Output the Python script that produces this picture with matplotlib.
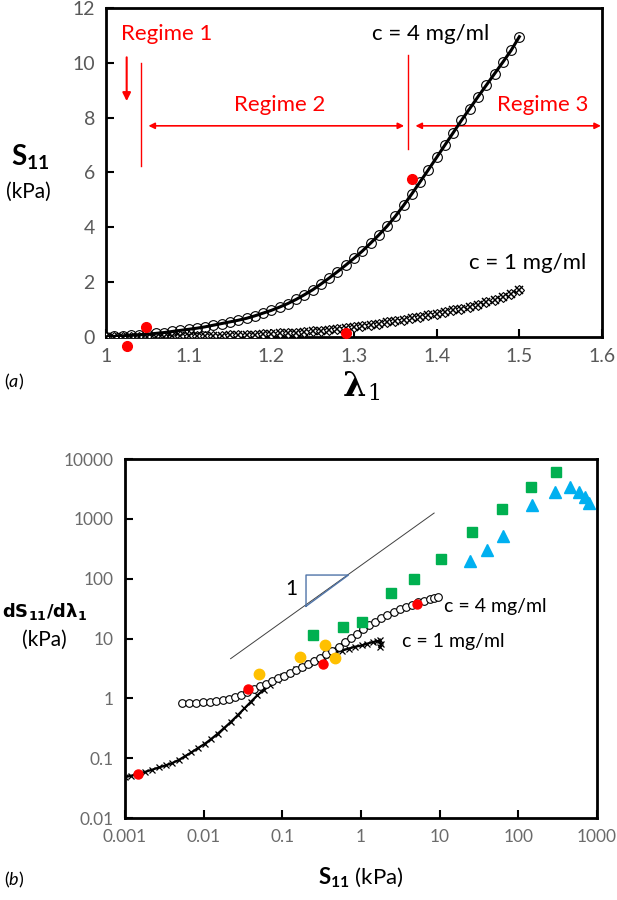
import numpy as np
import matplotlib.pyplot as plt

plt.rcParams['font.family'] = ['Lato', 'DejaVu Sans']
plt.rcParams['mathtext.fontset'] = 'custom'
plt.rcParams['mathtext.rm'] = 'Lato'
plt.rcParams['mathtext.bf'] = 'Lato:bold'
plt.rcParams['mathtext.it'] = 'Lato:italic'

# ---- panel (a): S11 vs stretch ----
lam = [1.00, 1.01, 1.02, 1.03, 1.04, 1.05, 1.06, 1.07, 1.08, 1.09,
       1.10, 1.11, 1.12, 1.13, 1.14, 1.15, 1.16, 1.17, 1.18, 1.19,
       1.20, 1.21, 1.22, 1.23, 1.24, 1.25, 1.26, 1.27, 1.28, 1.29,
       1.30, 1.31, 1.32, 1.33, 1.34, 1.35, 1.36, 1.37, 1.38, 1.39,
       1.40, 1.41, 1.42, 1.43, 1.44, 1.45, 1.46, 1.47, 1.48, 1.49, 1.50]
s_c4 = [0.00, 0.02, 0.04, 0.06, 0.08, 0.10, 0.13, 0.16, 0.20, 0.24,
        0.28, 0.32, 0.37, 0.43, 0.49, 0.55, 0.61, 0.68, 0.77, 0.87,
        0.97, 1.09, 1.22, 1.37, 1.54, 1.72, 1.93, 2.15, 2.38, 2.62,
        2.87, 3.13, 3.42, 3.72, 4.04, 4.40, 4.80, 5.22, 5.66, 6.10,
        6.55, 7.00, 7.45, 7.90, 8.33, 8.76, 9.18, 9.60, 10.02, 10.45, 10.95]
s_c1 = [0.000, 0.002, 0.004, 0.006, 0.008, 0.010, 0.013, 0.016, 0.019, 0.023,
        0.027, 0.032, 0.037, 0.043, 0.050, 0.058, 0.067, 0.077, 0.088, 0.100,
        0.113, 0.127, 0.143, 0.160, 0.178, 0.20, 0.23, 0.26, 0.30, 0.33,
        0.37, 0.41, 0.45, 0.49, 0.54, 0.58, 0.63, 0.68, 0.73, 0.79,
        0.85, 0.91, 0.97, 1.03, 1.10, 1.18, 1.26, 1.35, 1.45, 1.57, 1.70]
red_lam = [1.025, 1.048, 1.29, 1.37]
red_s = [-0.32, 0.35, 0.13, 5.75]

# ---- panel (b): tangent stiffness vs S11 ----
b_s_c4 = [0.0053, 0.0065, 0.008, 0.0098, 0.012, 0.0145, 0.0175, 0.021, 0.025, 0.030,
          0.036, 0.043, 0.052, 0.062, 0.074, 0.088, 0.105, 0.125, 0.15, 0.18,
          0.21, 0.25, 0.30, 0.36, 0.43, 0.52, 0.62, 0.74, 0.88, 1.05,
          1.25, 1.5, 1.8, 2.15, 2.6, 3.1, 3.7, 4.4, 5.3, 6.3, 7.5, 8.5, 9.5]
b_k_c4 = [0.82, 0.83, 0.84, 0.86, 0.88, 0.90, 0.93, 0.97, 1.04, 1.15,
          1.28, 1.42, 1.58, 1.75, 1.95, 2.15, 2.4, 2.65, 2.95, 3.3,
          3.7, 4.2, 4.8, 5.5, 6.3, 7.3, 8.6, 10.2, 12.0, 14.2,
          16.5, 19.0, 22.0, 25.0, 28.0, 31.0, 34.0, 37.0, 40.0, 43.0, 45.5, 47.0, 48.5]
b_s_c1 = [0.001, 0.0012, 0.00146, 0.0018, 0.0022, 0.0027, 0.0033, 0.004, 0.0048, 0.0058,
          0.007, 0.0085, 0.0104, 0.0125, 0.015, 0.018, 0.022, 0.027, 0.033, 0.040,
          0.048, 0.058, 0.07, 0.085, 0.103, 0.125, 0.15, 0.18, 0.22, 0.27,
          0.33, 0.40, 0.48, 0.58, 0.70, 0.85, 1.03, 1.2, 1.4, 1.6, 1.75, 1.8, 1.72]
b_k_c1 = [0.048, 0.051, 0.054, 0.059, 0.064, 0.070, 0.076, 0.083, 0.093, 0.108,
          0.125, 0.148, 0.175, 0.21, 0.255, 0.315, 0.40, 0.52, 0.68, 0.88,
          1.12, 1.40, 1.68, 2.0, 2.35, 2.7, 3.05, 3.4, 3.9, 4.4,
          4.9, 5.4, 5.9, 6.3, 6.8, 7.3, 7.7, 8.2, 8.7, 9.0, 9.3, 8.0, 7.2]
red_b_s = [0.00146, 0.0367, 0.327, 5.19]
red_b_k = [0.054, 1.41, 3.78, 38.3]
yellow_s = [0.05, 0.168, 0.351, 0.473]
yellow_k = [2.58, 4.94, 7.74, 4.76]
green_s = [0.245, 0.596, 1.035, 2.4, 4.73, 10.4, 26.0, 61.7, 146, 299]
green_k = [11.4, 15.3, 18.7, 58, 97.7, 214, 596, 1436, 3430, 6110]
blue_s = [24.5, 40.3, 63.8, 148, 291, 451, 587, 700, 787]
blue_k = [194, 304, 511, 1714, 2825, 3428, 2825, 2333, 1853]
slope_s = [0.022, 8.5]
slope_k = [4.6, 1250]
tri_s = [0.2, 0.2, 0.692, 0.2]
tri_k = [34.6, 115, 115, 34.6]

fig = plt.figure(figsize=(6.17, 9), dpi=100)
tick_gray = '#595959'
red = '#FF0000'

ax1 = fig.add_axes([0.1718, 0.6256, 0.8039, 0.3656])
ax1.plot(lam, s_c1, color='black', lw=1.8, zorder=2)
ax1.plot(lam, s_c1, ls='none', marker='D', ms=5.5, mfc='white', mec='black', mew=0.8, zorder=3)
ax1.plot(lam, s_c1, ls='none', marker='x', ms=5.5, color='black', mew=1.1, zorder=4)
ax1.plot(lam, s_c4, color='black', lw=2.2, marker='o', ms=7, mfc='none', mec='black',
         mew=0.8, zorder=5)
ax1.plot(red_lam, red_s, ls='none', marker='o', ms=7, color=red, zorder=6, clip_on=False)

ax1.set_xlim(1, 1.6)
ax1.set_ylim(0, 12)
ax1.set_xticks([1, 1.1, 1.2, 1.3, 1.4, 1.5, 1.6])
ax1.set_xticklabels(['1', '1.1', '1.2', '1.3', '1.4', '1.5', '1.6'])
ax1.set_yticks([0, 2, 4, 6, 8, 10, 12])
ax1.tick_params(direction='in', length=6, width=1.5, labelsize=14, labelcolor=tick_gray, pad=8)

# regime annotations
ax1.text(1.074, 11.05, 'Regime 1', color=red, fontsize=16, ha='center', va='center')
ax1.annotate('', xy=(1.025, 8.5), xytext=(1.025, 10.3),
             arrowprops=dict(arrowstyle='-|>', color=red, lw=1.5, mutation_scale=12))
ax1.plot([1.042, 1.042], [6.25, 10.0], color=red, lw=1)
ax1.plot([1.365, 1.365], [6.86, 10.3], color=red, lw=1)
ax1.annotate('', xy=(1.048, 7.7), xytext=(1.364, 7.7),
             arrowprops=dict(arrowstyle='<|-|>', color=red, lw=1.2, mutation_scale=9))
ax1.annotate('', xy=(1.371, 7.7), xytext=(1.602, 7.7), annotation_clip=False,
             arrowprops=dict(arrowstyle='<|-|>', color=red, lw=1.2, mutation_scale=9))
ax1.text(1.21, 8.46, 'Regime 2', color=red, fontsize=16, ha='center', va='center')
ax1.text(1.528, 8.46, 'Regime 3', color=red, fontsize=16, ha='center', va='center')
ax1.text(1.393, 11.05, 'c = 4 mg/ml', fontsize=16, ha='center', va='center')
ax1.text(1.51, 2.7, 'c = 1 mg/ml', fontsize=16, ha='center', va='center')

# panel (b)
ax2 = fig.add_axes([0.2026, 0.0911, 0.765, 0.3989])
ax2.set_xscale('log')
ax2.set_yscale('log')
ax2.plot(slope_s, slope_k, color='#404040', lw=0.7)
ax2.plot(tri_s, tri_k, color='#4F74A8', lw=1)
ax2.plot(b_s_c1, b_k_c1, color='black', lw=1.6, marker='x', ms=5, mew=0.9, zorder=3)
ax2.plot(b_s_c4, b_k_c4, color='black', lw=2, marker='o', ms=5.5, mfc='white', mec='black',
         mew=0.8, zorder=4)
ax2.plot(yellow_s, yellow_k, ls='none', marker='o', ms=7.5, color='#FFC000', zorder=5)
ax2.plot(red_b_s, red_b_k, ls='none', marker='o', ms=6.5, color=red, zorder=6)
ax2.plot(green_s, green_k, ls='none', marker='s', ms=7, color='#00B050', zorder=5)
ax2.plot(blue_s, blue_k, ls='none', marker='^', ms=8, color='#00B0F0', zorder=5)
ax2.text(0.13, 66, '1', fontsize=15, ha='center', va='center')
ax2.text(11.5, 34.6, 'c = 4 mg/ml', fontsize=14, ha='left', va='center')
ax2.text(3.3, 9.0, 'c = 1 mg/ml', fontsize=14, ha='left', va='center')

ax2.set_xlim(0.001, 1000)
ax2.set_ylim(0.01, 10000)
ax2.set_xticks([0.001, 0.01, 0.1, 1, 10, 100, 1000])
ax2.set_xticklabels(['0.001', '0.01', '0.1', '1', '10', '100', '1000'])
ax2.set_yticks([0.01, 0.1, 1, 10, 100, 1000, 10000])
ax2.set_yticklabels(['0.01', '0.1', '1', '10', '100', '1000', '10000'])
ax2.minorticks_off()
ax2.tick_params(direction='in', length=6, width=1.5, labelsize=12.5, labelcolor='#6b6b6b', pad=8)

for ax in (ax1, ax2):
    for sp in ax.spines.values():
        sp.set_linewidth(2)

# axis labels
fig.text(30/617, 1 - 157/900, r'$\mathbf{S_{11}}$', fontsize=20, ha='center', va='center')
fig.text(28/617, 1 - 192/900, '(kPa)', fontsize=15, ha='center', va='center')
fig.text(366/617, 1 - 386/900, 'λ', fontsize=24, ha='right', va='center',
         family='DejaVu Serif', fontweight='bold')
fig.text(367/617, 1 - 394/900, '1', fontsize=16, ha='left', va='center',
         family='DejaVu Serif')
fig.text(4/617, 1 - 382/900, r'($\mathit{a}$)', fontsize=13, ha='left', va='center')

fig.text(44/617, 1 - 612/900, r'$\mathbf{dS_{11}/d\lambda_{1}}$', fontsize=13,
         ha='center', va='center', math_fontfamily='dejavusans')
fig.text(44/617, 1 - 640/900, '(kPa)', fontsize=15, ha='center', va='center')
fig.text(361/617, 1 - 878/900, r'$\mathbf{S_{11}}$ (kPa)', fontsize=16, ha='center', va='center')
fig.text(4/617, 1 - 880/900, r'($\mathit{b}$)', fontsize=13, ha='left', va='center')

fig.savefig('out.png', dpi=100)
